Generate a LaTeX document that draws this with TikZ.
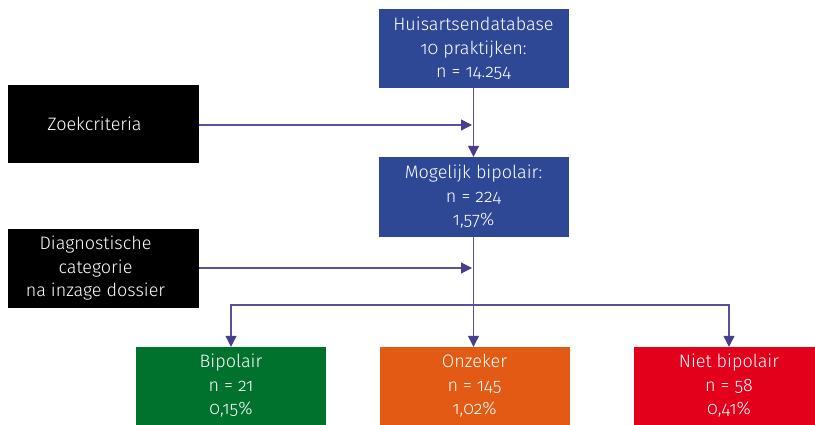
\documentclass[tikz,border=0pt]{standalone}
\usepackage{fontspec}
\setmainfont{Fira Sans Light}[Numbers=OldStyle]
\usetikzlibrary{arrows.meta}
\definecolor{boxblue}{HTML}{2E4896}
\definecolor{boxgreen}{HTML}{00722E}
\definecolor{boxorange}{HTML}{E35A14}
\definecolor{boxred}{HTML}{E2001A}
\definecolor{conncol}{HTML}{5A5298}
\definecolor{tipcol}{HTML}{463F8E}
\newcommand{\myLeftShift}{\hspace*{-16pt}}
\tikzset{
  box/.style={rectangle, inner sep=0pt, text=white, align=center,
    font=\fontsize{18}{23.5}\selectfont},
  conn/.style={draw=conncol, line width=1.2pt,
    -{Triangle[width=11pt,length=11pt,color=tipcol]}},
}
\begin{document}
\begin{tikzpicture}[x=1pt,y=-1pt]
\clip (0,0) rectangle (815,425);
\fill[white] (0,0) rectangle (815,425);
\node[box, fill=boxblue, minimum width=190pt, minimum height=79pt] (top) at (473.5,48.5) {Huisartsendatabase\\10 praktijken:\\n = 14.254};
\node[box, fill=black, minimum width=191pt, minimum height=78pt] (zoek) at (103.5,124) {\hspace*{-18pt}Zoekcriteria};
\node[box, fill=boxblue, minimum width=190pt, minimum height=80pt] (mog) at (473.5,197) {Mogelijk bipolair:\\n = 224\\1,57\%};
\node[box, fill=black, minimum width=191pt, minimum height=79pt] (diag) at (103.5,268.5) {\myLeftShift Diagnostische\\\myLeftShift categorie\\\myLeftShift na inzage dossier};
\node[box, fill=boxgreen, minimum width=190pt, minimum height=78pt] (bip) at (231,386) {Bipolair\\n = 21\\0,15\%};
\node[box, fill=boxorange, minimum width=190pt, minimum height=78pt] (onz) at (474.5,386) {Onzeker\\n = 145\\1,02\%};
\node[box, fill=boxred, minimum width=190pt, minimum height=78pt] (niet) at (729,386) {Niet bipolair\\n = 58\\0,41\%};
\coordinate (j1) at (472,125);
\coordinate (j2) at (472,268);
\coordinate (split) at (473.5,305);
\draw[conn] (top) -- (mog);
\draw[conn] (zoek.east |- j1) -- (j1);
\draw[conn] (diag.east |- j2) -- (j2);
\draw[conn] (mog.south) -- (mog.south |- onz.north);
\draw[conn] (split) -| (bip.north);
\draw[conn] (split) -| (niet.north);
\end{tikzpicture}
\end{document}
